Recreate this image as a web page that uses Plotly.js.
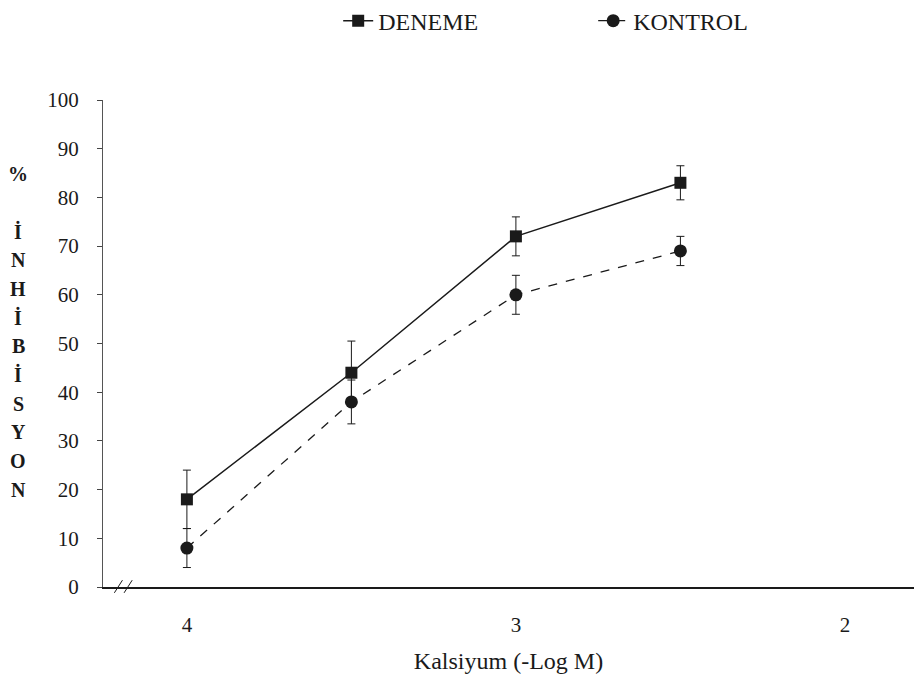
<!DOCTYPE html>
<html>
<head>
<meta charset="utf-8">
<script src="https://cdn.plot.ly/plotly-3.0.1.min.js"></script>
<style>html,body{margin:0;padding:0;background:#fff;}#chart{width:914px;height:682px;}</style>
</head>
<body>
<div id="chart"></div>
<script>
// Data (x = -Log M calcium concentration)
const xValues = [4, 3.5, 3, 2.5];
const denemeValues = [18, 44, 72, 83];
const denemeErrors = [6, 6.5, 4, 3.5];
const kontrolValues = [8, 38, 60, 69];
const kontrolErrors = [4, 4.5, 4, 3];
const xTickVals = [4, 3, 2];
const xTickText = ["4", "3", "2"];
const yTitleLetters = ["%", "", "İ", "N", "H", "İ", "B", "İ", "S", "Y", "O", "N"];

const serif = "Liberation Serif";
const ink = "#1a1a1a";

const traces = [
  {
    x: xValues, y: denemeValues, name: "DENEME", type: "scatter", mode: "lines+markers",
    line: {color: ink, width: 1.5},
    marker: {symbol: "square", size: 12, color: ink},
    error_y: {type: "data", array: denemeErrors, visible: true, color: ink, thickness: 1, width: 4}
  },
  {
    x: xValues, y: kontrolValues, name: "KONTROL", type: "scatter", mode: "lines+markers",
    line: {color: ink, width: 1.3, dash: "dash"},
    marker: {symbol: "circle", size: 13, color: ink},
    error_y: {type: "data", array: kontrolErrors, visible: true, color: ink, thickness: 1, width: 4}
  }
];

// stacked vertical y-axis title letters
const plotTop = 100, plotBottom = 587, plotH = plotBottom - plotTop;
const annotations = [];
yTitleLetters.forEach((ch, i) => {
  if (!ch) return;
  const px = 174 + i * 28.7;
  annotations.push({
    text: "<b>" + ch + "</b>", xref: "paper", yref: "paper",
    x: (18 - 103) / 811, y: (plotBottom - px) / plotH,
    xanchor: "center", yanchor: "middle", showarrow: false,
    font: {family: serif, size: 20, color: ink}
  });
});

const layout = {
  width: 914, height: 682,
  margin: {l: 103, r: 0, t: plotTop, b: 682 - plotBottom, autoexpand: false},
  paper_bgcolor: "#fff", plot_bgcolor: "#fff",
  font: {family: serif, color: ink},
  showlegend: true,
  legend: {orientation: "h", x: 0.29, y: 1.162, xanchor: "left", yanchor: "middle",
           font: {family: serif, size: 24, color: ink}, entrywidth: 210, bgcolor: "rgba(0,0,0,0)"},
  xaxis: {
    range: [4.255, 1.79], tickvals: xTickVals, ticktext: xTickText, automargin: false,
    ticks: "", showline: true, linecolor: ink, linewidth: 1.5, showgrid: false, zeroline: false,
    tickfont: {family: serif, size: 21, color: ink}, ticklabelstandoff: 18,
    title: {text: "Kalsiyum (-Log M)", font: {family: serif, size: 24, color: ink}, standoff: 16}
  },
  yaxis: {
    range: [0, 100], dtick: 10, ticks: "outside", ticklen: 5, tickcolor: "#444", automargin: false,
    showline: true, linecolor: "#555", linewidth: 1, showgrid: false, zeroline: false,
    tickfont: {family: serif, size: 21, color: ink}, ticklabelstandoff: 14
  },
  annotations: annotations,
  shapes: [
    {type: "line", xref: "paper", yref: "paper", x0: 0.014, y0: -0.012, x1: 0.024, y1: 0.014, line: {color: ink, width: 1}},
    {type: "line", xref: "paper", yref: "paper", x0: 0.026, y0: -0.012, x1: 0.036, y1: 0.014, line: {color: ink, width: 1}}
  ]
};

Plotly.newPlot("chart", traces, layout, {displayModeBar: false, staticPlot: true});
</script>
</body>
</html>
